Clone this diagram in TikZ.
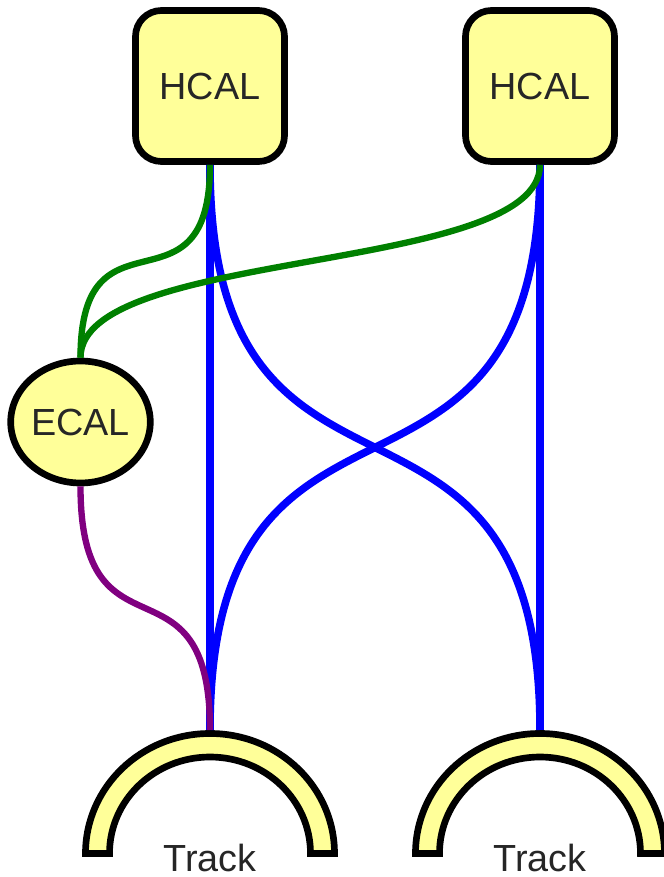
\documentclass[tikz,border=0pt]{standalone}
\usepackage{fontspec}
\setmainfont{Liberation Sans}
\usepackage{xcolor}
\usepackage{tikz}
\usetikzlibrary{shapes.geometric}
\definecolor{calyellow}{HTML}{FFFF99}
\definecolor{linkgreen}{HTML}{008000}
\definecolor{linkpurple}{HTML}{800080}
\tikzstyle{cal}=[draw=black,line width=3.8pt,fill=calyellow,text=black!85]
\tikzstyle{hcal}=[cal,rectangle,rounded corners=0.52cm,minimum width=2.98cm,minimum height=3.02cm]
\tikzstyle{ecal}=[cal,ellipse,inner sep=0pt,minimum width=2.71cm,minimum height=2.44cm]
\tikzstyle{trk}=[draw=black,line width=3.8pt,fill=calyellow]
\tikzstyle{trklabel}=[anchor=base,inner sep=0pt,text=black!85]
\tikzstyle{link}=[line width=3.6pt]

\begin{document}
\begin{tikzpicture}[font=\fontsize{21.5}{25}\selectfont]
\useasboundingbox (0,0) rectangle (13.28,17.54);
% track arches
\draw[trk] (1.71,0.47) arc[start angle=180,end angle=0,x radius=2.49,y radius=2.40] -- ++(-0.48,0) arc[start angle=0,end angle=180,x radius=2.01,y radius=1.93] -- cycle;
\draw[trk] (8.31,0.47) arc[start angle=180,end angle=0,x radius=2.49,y radius=2.40] -- ++(-0.48,0) arc[start angle=0,end angle=180,x radius=2.01,y radius=1.93] -- cycle;
\coordinate (trkL) at (4.2,2.94);
\coordinate (trkR) at (10.8,2.94);
\node[trklabel](trkLlabel) at (4.2,0.12){Track};
\node[trklabel](trkRlabel) at (10.8,0.12){Track};
% calorimeters
\node[hcal](hcalL) at (4.2,15.82){HCAL};
\node[hcal](hcalR) at (10.8,15.82){HCAL};
\node[ecal](ecal) at (1.61,9.1){ECAL};
% hcal -> track
\draw[link,blue,line width=4.3pt] (hcalL.south)--(trkL);
\draw[link,blue,line width=4.3pt] (hcalR.south)--(trkR);
\draw[link,blue,line width=4.3pt] (hcalL.south) .. controls +(0,-8) and +(0,8) .. (trkR);
\draw[link,blue,line width=4.3pt] (hcalR.south) .. controls +(0,-8) and +(0,8) .. (trkL);
% hcal -> ecal
\draw[link,linkgreen] (hcalL.south) .. controls +(0,-3.2) and +(0,3.2) .. (ecal.north);
\draw[link,linkgreen] (hcalR.south) .. controls +(0,-2.2) and +(0,2.2) .. (ecal.north);
% ecal -> track
\draw[link,linkpurple] (ecal.south) .. controls +(0,-3.7) and +(0,3.7) .. (trkL);
\end{tikzpicture}
\end{document}
